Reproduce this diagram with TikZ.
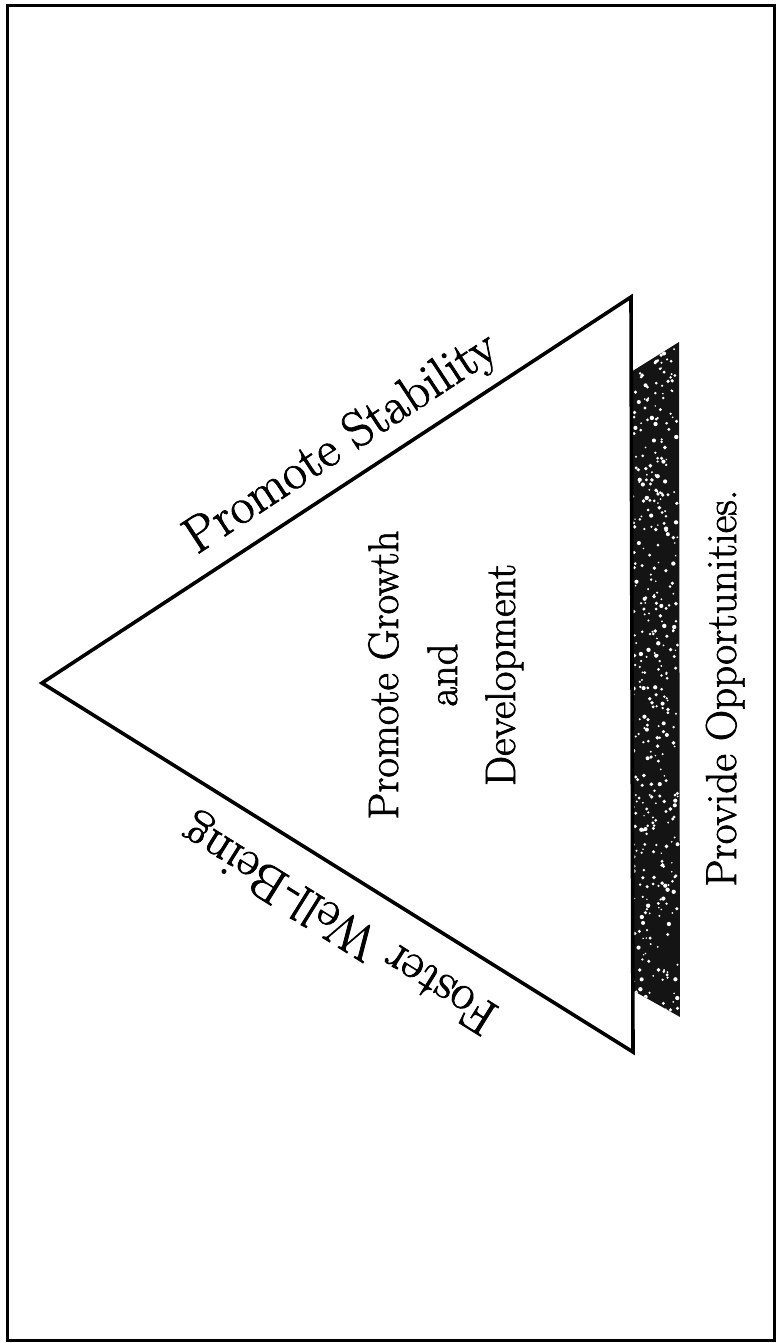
\documentclass[tikz,border=0pt]{standalone}
\usepackage{tikz}
\usepackage{fontspec}
\setmainfont{Latin Modern Roman}[FakeBold=1.6]

\tikzset{
  edge/.style={line width=1.8pt, line join=miter},
  label/.style={font=\fontsize{25.5}{28}\selectfont, inner sep=0pt},
  inner/.style={font=\fontsize{21.3}{24}\selectfont, inner sep=0pt, rotate=90, anchor=base},
}

\begin{document}
\begin{tikzpicture}[x=0.5pt, y=-0.5pt]
		\useasboundingbox (0,0) rectangle (776,1343);

		% outer frame
		\draw[line width=1.5pt] (7,6) rectangle (774,1340);

		% corners of the triangle
		\coordinate (apex) at (42,683);
		\coordinate (topR) at (631,297);
		\coordinate (botR) at (633,1052);

		% shaded base bar
		\coordinate (barTL) at (631,372);
		\coordinate (barTR) at (679,342);
		\coordinate (barBR) at (680,1017);
		\coordinate (barBL) at (632,990);
		\begin{scope}
			\clip (barTL) -- (barTR) -- (barBR) -- (barBL) -- cycle;
			\fill[black!92] (barTL) -- (barTR) -- (barBR) -- (barBL) -- cycle;
			\pgfmathsetseed{11}
			\foreach \i in {1,...,420}{
				\pgfmathsetmacro{\sx}{633+45*rnd}
				\pgfmathsetmacro{\sy}{345+670*rnd}
				\fill[white] (\sx,\sy) circle (0.4pt+0.7pt*rnd);
			}
		\end{scope}

		% the triangle
		\draw[edge] (apex) -- (topR) -- (botR) -- cycle;

		% labels on the sides
		\node[label, rotate=33.3, anchor=base] (stab) at (349,455) {Promote Stability};
		\node[label, rotate=148, anchor=base] (well) at (347,912) {Foster Well-Being};
		\node[inner, font=\fontsize{21.6}{24}\selectfont] (opp) at (736,688) {Provide Opportunities.};

		% text inside the triangle
		\node[inner] (grow) at (398,675) {Promote Growth};
		\node[inner] (and) at (457,675) {and};
		\node[inner] (dev) at (515,675) {Development};

	\end{tikzpicture}
\end{document}
